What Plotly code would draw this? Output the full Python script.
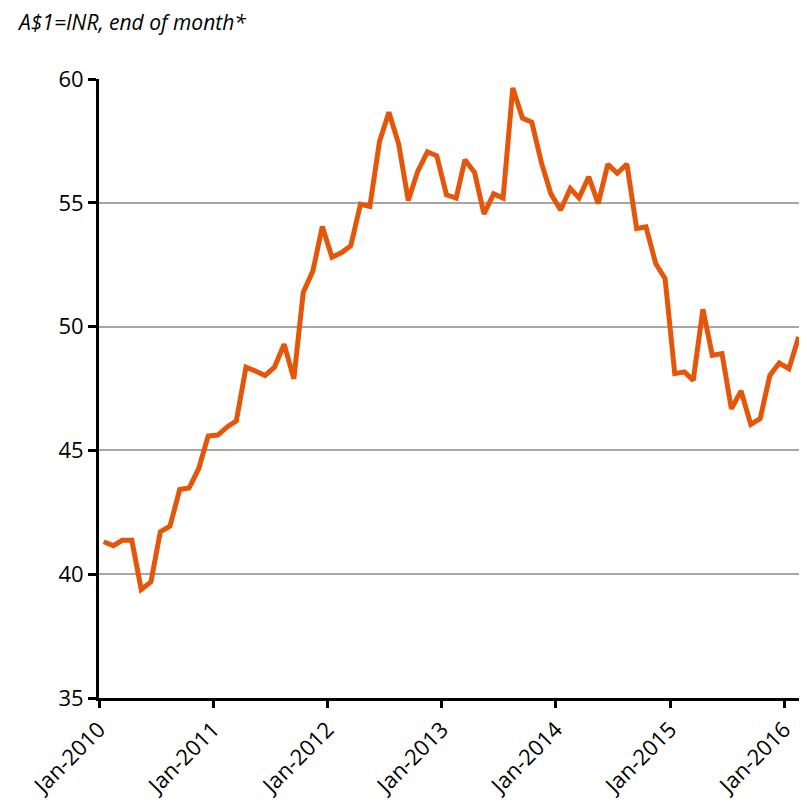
import plotly.graph_objects as go
import pandas as pd

values = [
    41.31, 41.15, 41.37, 41.37, 39.38, 39.69, 41.71, 41.94, 43.42, 43.48, 44.27, 45.58,
    45.62, 45.96, 46.19, 48.36, 48.21, 48.02, 48.36, 49.29, 47.89, 51.38, 52.25, 54.04,
    52.80, 52.99, 53.26, 54.94, 54.85, 57.48, 58.66, 57.38, 55.09, 56.27, 57.05, 56.90,
    55.32, 55.19, 56.74, 56.22, 54.55, 55.36, 55.19, 59.64, 58.42, 58.25, 56.60, 55.36,
    54.71, 55.58, 55.20, 56.05, 54.97, 56.56, 56.19, 56.56, 53.96, 54.03, 52.55, 51.94,
    48.10, 48.17, 47.83, 50.70, 48.84, 48.91, 46.68, 47.40, 46.05, 46.28, 48.03, 48.53,
    48.30, 49.58,
]
months = pd.date_range("2010-01-01", periods=len(values), freq="MS") + pd.Timedelta(days=15)
tick_vals = pd.date_range("2010-01-01", "2016-01-01", freq="YS")
tick_text = [d.strftime("%b-%Y") for d in tick_vals]
y_ticks = [35, 40, 45, 50, 55, 60]
title_text = "A$1=INR, end of month*"

fig = go.Figure()
fig.add_trace(go.Scatter(
    x=months, y=values, mode="lines",
    line=dict(color="#E5560A", width=5),
    hoverinfo="skip",
))

font_family = "Open Sans"
fig.update_layout(
    width=799, height=796,
    margin=dict(l=91, r=4, t=71, b=106, autoexpand=False),
    paper_bgcolor="white", plot_bgcolor="white",
    showlegend=False,
    font=dict(family=font_family, size=20, color="black"),
    xaxis=dict(
        type="date",
        range=["2010-01-01", "2016-03-01"],
        tickvals=tick_vals, ticktext=tick_text,
        tickangle=-45,
        ticks="outside", ticklen=7, tickwidth=3, tickcolor="black",
        showline=True, linecolor="black", linewidth=3,
        showgrid=False, zeroline=False,
        automargin=False,
        tickfont=dict(size=22),
    ),
    yaxis=dict(
        range=[35, 60],
        tickvals=y_ticks,
        ticks="outside", ticklen=8, tickwidth=3, tickcolor="black",
        showline=True, linecolor="black", linewidth=3,
        showgrid=True, gridcolor="#a6a6a6", gridwidth=1.5,
        zeroline=False,
        automargin=False,
        tickfont=dict(size=22),
    ),
    annotations=[dict(
        text="<i>" + title_text + "</i>",
        xref="paper", yref="paper", x=0, y=1,
        xanchor="left", yanchor="middle",
        xshift=-83, yshift=57, borderpad=0,
        showarrow=False,
        font=dict(size=21, family=font_family),
    )],
)

fig.write_html("out.html")
